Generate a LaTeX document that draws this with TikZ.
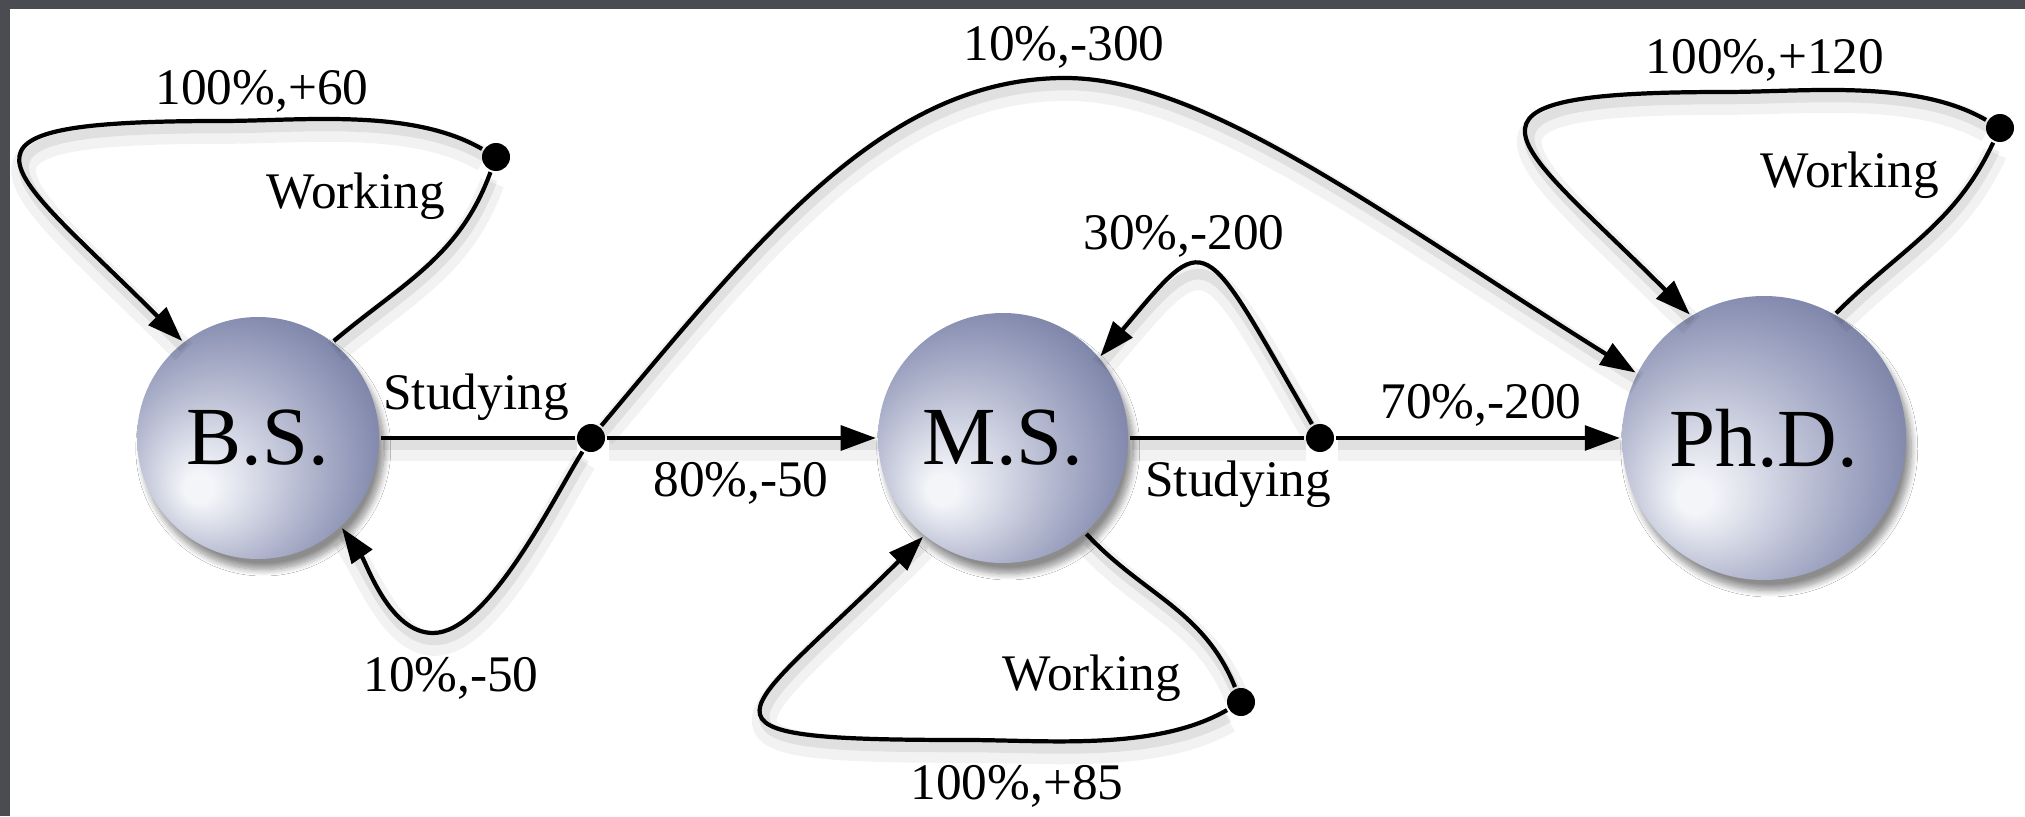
\documentclass[tikz,border=0pt]{standalone}
\usepackage{fontspec}
\setmainfont{Liberation Serif}
\usetikzlibrary{arrows.meta,shadows.blur}
\definecolor{ballDark}{HTML}{5B6591}
\definecolor{ballMid}{HTML}{A4A9C5}
\definecolor{ballLight}{HTML}{F4F5F9}
\definecolor{frameGray}{HTML}{4B4C51}
\pgfdeclareradialshading{degreeball}{\pgfpoint{-13bp}{-11bp}}{%
color(0bp)=(ballLight); color(3bp)=(ballLight); color(22bp)=(ballMid);
color(40bp)=(ballDark); color(50bp)=(ballDark)}

\begin{document}
\begin{tikzpicture}[
degree/.style={
circle,
shade,
shading=degreeball,
inner sep=0pt,
font=\fontsize{23.5}{28}\selectfont,
blur shadow={shadow xshift=1.5pt,shadow yshift=-3pt,shadow opacity=45,shadow blur steps=10}
},
dot/.style={circle, fill=black, inner sep=0pt, minimum size=0.28cm},
lbl/.style={font=\fontsize{14.6}{17}\selectfont, inner sep=1pt},
link/.style={
  preaction={draw=black, opacity=0.05, line width=7pt, arrows=-,
    transform canvas={xshift=0.5pt,yshift=-3pt}},
  preaction={draw=black, opacity=0.07, line width=3pt, arrows=-,
    transform canvas={xshift=0.5pt,yshift=-2pt}}},
arrow/.style={link, -{Triangle[length=10pt,width=7pt]}},
line width=1.2pt
]
\useasboundingbox (0,0) rectangle (20.25,8.16);
\fill[white] (0,0) rectangle (20.25,8.16);
\fill[frameGray] (0,8.07) rectangle (20.25,8.16);
\fill[frameGray] (0,0) rectangle (0.10,8.16);

% degrees
\node[degree, minimum size=2.42cm] (BS) at (2.58,3.78) {B.S.};
\node[degree, minimum size=2.50cm] (MS) at (10.03,3.78) {M.S.};
\node[degree, minimum size=2.84cm] (PhD) at (17.64,3.78) {Ph.D.};

% branch points
\node[dot] (sBS) at (5.91,3.78) {};
\node[dot] (sMS) at (13.20,3.78) {};
\node[dot] (wBS) at (4.96,6.59) {};
\node[dot] (wMS) at (12.41,1.14) {};
\node[dot] (wPhD) at (20.00,6.88) {};
\coordinate (peak) at (10.65,7.38);
\coordinate (dip) at (4.33,1.83);
\coordinate (topBS) at (2.20,6.95);
\coordinate (botMS) at (9.65,0.76);
\coordinate (topPhD) at (17.24,7.24);

% studying after B.S.
\draw[link] (BS) -- (sBS);
\draw[arrow] (sBS) -- (MS);
\draw[arrow] (sBS) to[out=-122,in=0,looseness=0.6] (dip)
  to[out=180,in=-55,looseness=0.8] (BS.-47);
\draw[arrow] (sBS) .. controls +(50:2.6) and +(-1.8,0) .. (peak)
  .. controls +(1.4,0) and +(148:3.0) .. (PhD.153);

% studying after M.S.
\draw[link] (MS) -- (sMS);
\draw[arrow] (sMS) -- (PhD);
\draw[arrow] (sMS) .. controls +(120:2.4) and +(50:1.7) .. (MS.40);

% working
\draw[link] (BS.52) to[out=40,in=-110] (wBS);
\draw[arrow] (wBS) to[out=150,in=0,looseness=0.8] (topBS)
  .. controls +(-3.0,0) and +(135:2.5) .. (BS.128);
\draw[link] (MS.-49) to[out=-47,in=112] (wMS);
\draw[arrow] (wMS) to[out=-150,in=0,looseness=0.8] (botMS)
  .. controls +(-3.0,0) and +(-135:2.6) .. (MS.-129);
\draw[link] (PhD.60) to[out=45,in=-115] (wPhD);
\draw[arrow] (wPhD) to[out=150,in=0,looseness=0.8] (topPhD)
  .. controls +(-3.0,0) and +(135:2.5) .. (PhD.121);

% labels
\node[lbl] (bsWorkVal) at (2.62,7.25) {100\%,+60};
\node[lbl] (bsWork) at (3.56,6.20) {Working};
\node[lbl] (bsStudy) at (4.76,4.19) {Studying};
\node[lbl] (bsToMs) at (7.41,3.33) {80\%,-50};
\node[lbl] (bsStay) at (4.51,1.38) {10\%,-50};
\node[lbl] (bsToPhd) at (10.64,7.69) {10\%,-300};
\node[lbl] (msStay) at (11.84,5.80) {30\%,-200};
\node[lbl] (msStudy) at (12.38,3.32) {Studying};
\node[lbl] (msToPhd) at (14.81,4.11) {70\%,-200};
\node[lbl] (msWork) at (10.92,1.38) {Working};
\node[lbl] (msWorkVal) at (10.17,0.30) {100\%,+85};
\node[lbl] (phdWorkVal) at (17.65,7.56) {100\%,+120};
\node[lbl] (phdWork) at (18.50,6.41) {Working};
\end{tikzpicture}
\end{document}
